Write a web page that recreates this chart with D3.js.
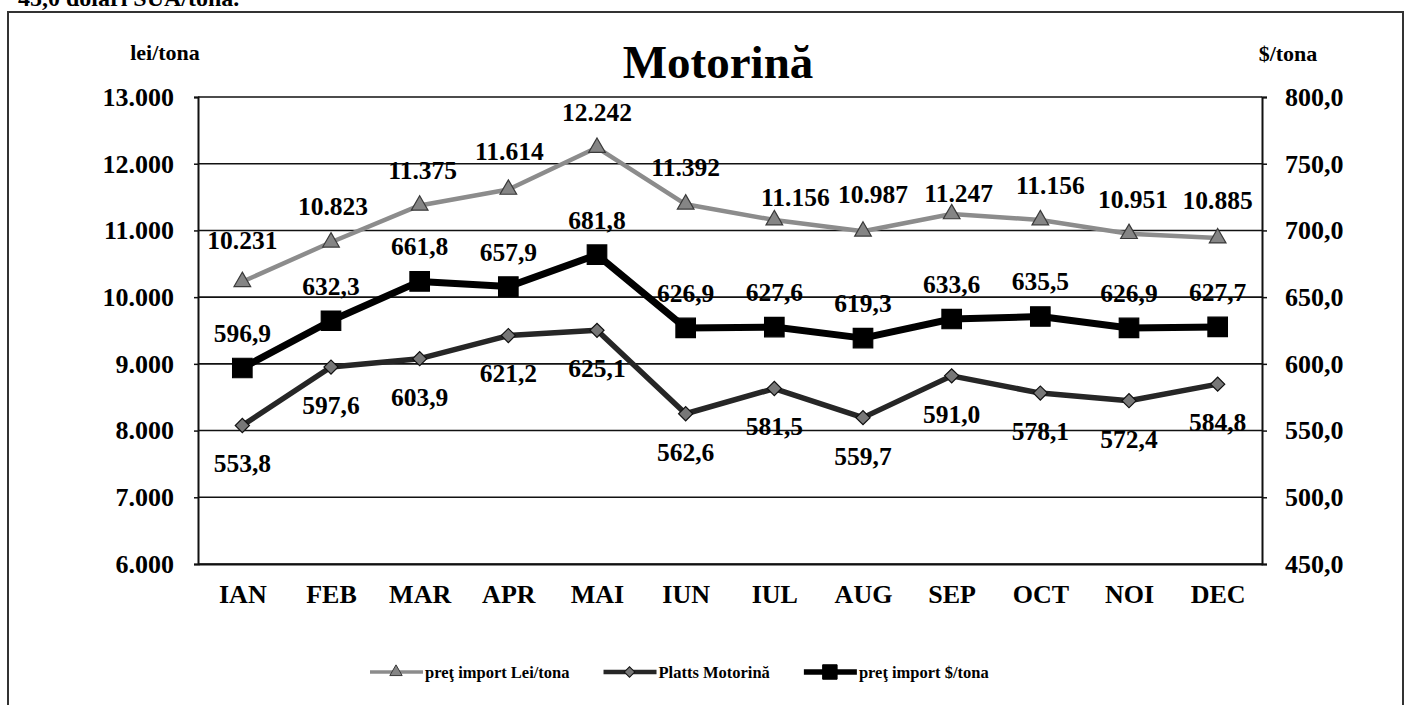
<!DOCTYPE html>
<html>
<head>
<meta charset="utf-8">
<script src="https://cdn.jsdelivr.net/npm/d3@7"></script>
<style>
  html, body { margin: 0; padding: 0; background: #fff; }
  svg { display: block; font-family: "Liberation Serif", "Times New Roman", serif; font-weight: bold; }
</style>
</head>
<body>
<div id="chart"></div>
<script>
// values
const months = ["IAN", "FEB", "MAR", "APR", "MAI", "IUN", "IUL", "AUG", "SEP", "OCT", "NOI", "DEC"];
const leiTona = [10231, 10823, 11375, 11614, 12242, 11392, 11156, 10987, 11247, 11156, 10951, 10885];
const plattsMotorina = [553.8, 597.6, 603.9, 621.2, 625.1, 562.6, 581.5, 559.7, 591.0, 578.1, 572.4, 584.8];
const usdTona = [596.9, 632.3, 661.8, 657.9, 681.8, 626.9, 627.6, 619.3, 633.6, 635.5, 626.9, 627.7];
const leftTicks = [6000, 7000, 8000, 9000, 10000, 11000, 12000, 13000];
const rightTicks = [450, 500, 550, 600, 650, 700, 750, 800];
const legendNames = ["preţ import Lei/tona", "Platts Motorină", "preţ import $/tona"];

// label nudges (the original labels were moved by hand a bit)
const leiDx = [0, 2, 3, 1, 0, 0, 21, 10, 7, 10, 4, 0];
const leiDy = [-42, -36, -35, -38, -35, -37, -23, -37, -21, -35, -35, -38];

const width = 1409, height = 705;
const plot = {left: 198, right: 1262, top: 97, bottom: 564};

const ro = d3.formatLocale({decimal: ",", thousands: ".", grouping: [3], currency: ["", ""]});
const fmtInt = ro.format(",.0f");
const fmtOne = ro.format(",.1f");

const svg = d3.select("#chart").append("svg")
  .attr("width", width)
  .attr("height", height);

// cut-off line of text above the frame, and the frame itself
svg.append("text")
  .attr("x", 18).attr("y", 6)
  .attr("font-size", 24)
  .text("45,0 dolari SUA/tona.");

svg.append("rect")
  .attr("x", 8).attr("y", 12)
  .attr("width", 1395).attr("height", 720)
  .attr("fill", "none")
  .attr("stroke", "#333")
  .attr("stroke-width", 2);

const x = d3.scalePoint().domain(months).range([plot.left, plot.right]).padding(0.5);
const yL = d3.scaleLinear().domain([6000, 13000]).range([plot.bottom, plot.top]);
const yR = d3.scaleLinear().domain([450, 800]).range([plot.bottom, plot.top]);

// gridlines
svg.append("g")
  .selectAll("line")
  .data(leftTicks)
  .join("line")
  .attr("x1", plot.left).attr("x2", plot.right)
  .attr("y1", d => yL(d)).attr("y2", d => yL(d))
  .attr("stroke", "#111")
  .attr("stroke-width", 1.6);

// axes
const axL = svg.append("g")
  .attr("transform", `translate(${plot.left},0)`)
  .call(d3.axisLeft(yL).tickValues(leftTicks).tickFormat(fmtInt).tickSize(4).tickPadding(20));
const axR = svg.append("g")
  .attr("transform", `translate(${plot.right},0)`)
  .call(d3.axisRight(yR).tickValues(rightTicks).tickFormat(fmtOne).tickSize(5).tickPadding(18));
const axB = svg.append("g")
  .attr("transform", `translate(0,${plot.bottom})`)
  .call(d3.axisBottom(x).tickSize(0).tickPadding(21));

[axL, axR, axB].forEach(a => {
  a.select(".domain").attr("stroke", "#111").attr("stroke-width", 2);
  a.selectAll(".tick line").attr("stroke", "#111").attr("stroke-width", 1.5);
  a.selectAll("text")
    .attr("font-size", 26)
    .attr("font-family", "Liberation Serif, serif")
    .attr("font-weight", "bold")
    .attr("fill", "#000");
});

// titles
svg.append("text")
  .attr("x", 718).attr("y", 78)
  .attr("text-anchor", "middle")
  .attr("font-size", 47)
  .text("Motorină");
svg.append("text")
  .attr("x", 165).attr("y", 60)
  .attr("text-anchor", "middle")
  .attr("font-size", 22)
  .text("lei/tona");
svg.append("text")
  .attr("x", 1288).attr("y", 61)
  .attr("text-anchor", "middle")
  .attr("font-size", 22)
  .text("$/tona");

// series
const series = [
  {name: legendNames[0], values: leiTona, y: yL, fmt: fmtInt,
   line: "#8c8c8c", lw: 4.5, sym: d3.symbolTriangle, size: 120, fill: "#858585", stroke: "#3a3a3a", rot: 0,
   dx: i => leiDx[i], dy: i => leiDy[i]},
  {name: legendNames[1], values: plattsMotorina, y: yR, fmt: fmtOne,
   line: "#262626", lw: 5.5, sym: d3.symbolSquare, size: 100, fill: "#777", stroke: "#111", rot: 45,
   dx: () => 0, dy: () => 38},
  {name: legendNames[2], values: usdTona, y: yR, fmt: fmtOne,
   line: "#000", lw: 7, sym: d3.symbolSquare, size: 380, fill: "#000", stroke: "#000", rot: 0,
   dx: () => 0, dy: () => -35}
];

series.forEach(s => {
  const g = svg.append("g");
  g.append("path")
    .datum(s.values)
    .attr("fill", "none")
    .attr("stroke", s.line)
    .attr("stroke-width", s.lw)
    .attr("stroke-linejoin", "round")
    .attr("d", d3.line().x((d, i) => x(months[i])).y(d => s.y(d)));

  g.selectAll("path.mark")
    .data(s.values)
    .join("path")
    .attr("class", "mark")
    .attr("d", d3.symbol(s.sym, s.size))
    .attr("transform", (d, i) => `translate(${x(months[i])},${s.y(d)}) rotate(${s.rot})`)
    .attr("fill", s.fill)
    .attr("stroke", s.stroke)
    .attr("stroke-width", 1.2);

  g.selectAll("text")
    .data(s.values)
    .join("text")
    .attr("x", (d, i) => x(months[i]) + s.dx(i))
    .attr("y", (d, i) => s.y(d) + s.dy(i))
    .attr("dy", "0.35em")
    .attr("text-anchor", "middle")
    .attr("font-size", 25.5)
    .text(d => s.fmt(d));
});

// legend
let lx = 370;
const ly = 672;
series.forEach(s => {
  const lg = svg.append("g");
  lg.append("line")
    .attr("x1", lx).attr("x2", lx + 53)
    .attr("y1", ly).attr("y2", ly)
    .attr("stroke", s.line)
    .attr("stroke-width", s.lw * 0.8);
  lg.append("path")
    .attr("d", d3.symbol(s.sym, s.size * 0.55))
    .attr("transform", `translate(${lx + 26},${ly}) rotate(${s.rot})`)
    .attr("fill", s.fill)
    .attr("stroke", s.stroke);
  const t = lg.append("text")
    .attr("x", lx + 55).attr("y", ly)
    .attr("dy", "0.35em")
    .attr("font-size", 16.5)
    .text(s.name);
  lx += 55 + t.node().getComputedTextLength() + 34;
});
</script>
</body>
</html>
